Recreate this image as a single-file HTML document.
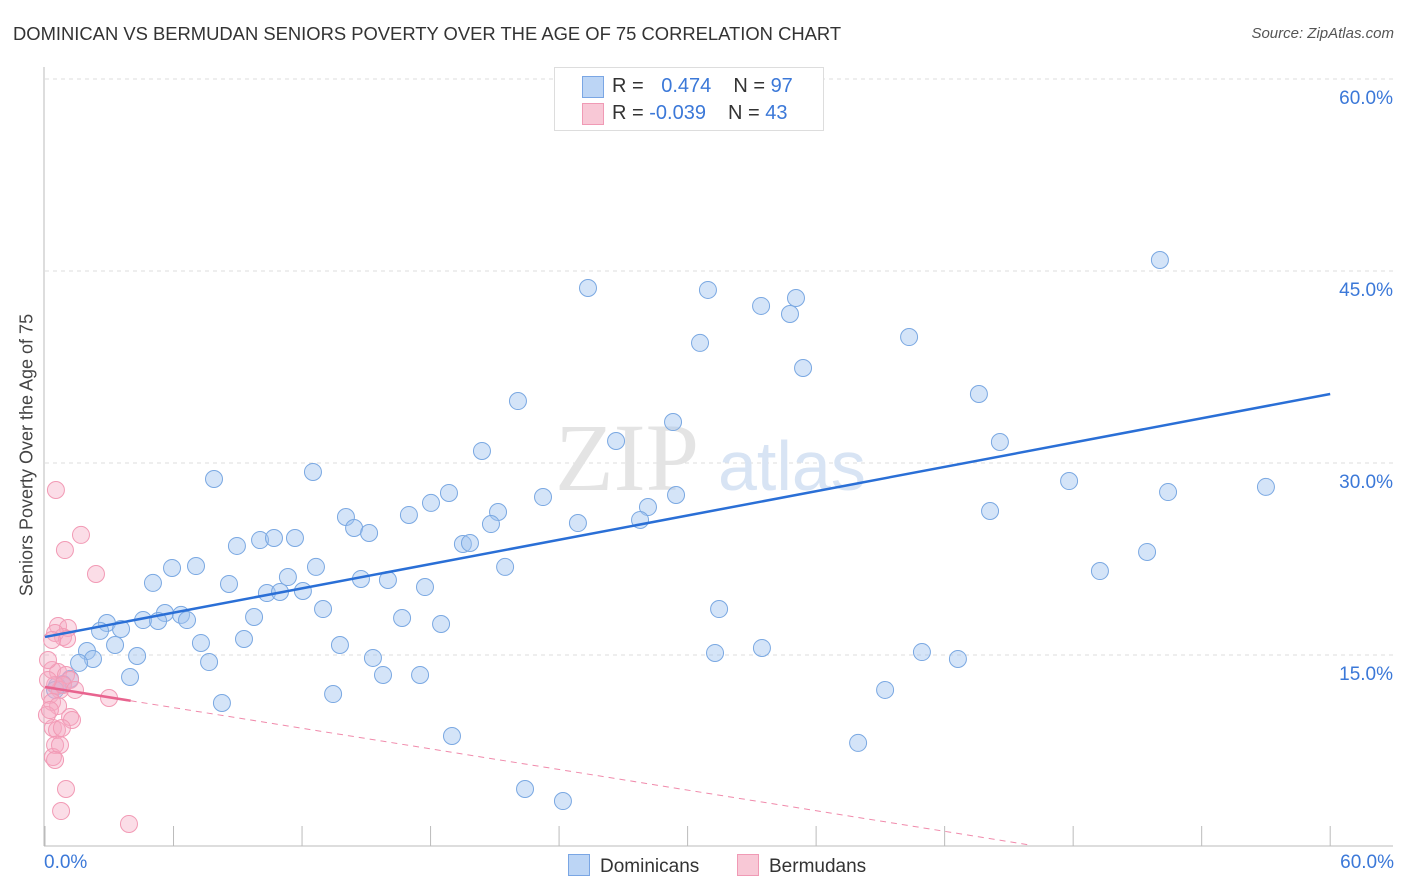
<!DOCTYPE html>
<html><head><meta charset="utf-8"><style>
body{margin:0;background:#fff;font-family:"Liberation Sans",sans-serif}
#wrap{position:relative;width:1406px;height:892px;overflow:hidden}
.t{position:absolute;white-space:nowrap}
</style></head><body><div id="wrap">
<div class="t" style="left:13px;top:23px;font-size:18.4px;color:#333">DOMINICAN VS BERMUDAN SENIORS POVERTY OVER THE AGE OF 75 CORRELATION CHART</div>
<div class="t" style="right:12px;top:25px;font-size:15px;color:#555;font-style:italic">Source: ZipAtlas.com</div>
<svg id="svg" width="1406" height="892" style="position:absolute;left:0;top:0"></svg>
</div>
<script>
const xTicks=[0,6,12,18,24,30,36,42,48,54,60];
const yTicks=[15,30,45,60];
const yTickLabels=["15.0%","30.0%","45.0%","60.0%"];
const blueX=[32.07,52.05,25.35,30.95,35.06,33.43,34.78,40.34,30.58,35.39,43.60,22.08,29.32,26.66,44.58,20.40,12.51,7.89,47.81,18.86,52.43,57.00,29.46,23.25,18.02,28.15,14.05,16.99,21.15,44.12,24.88,27.78,20.82,14.43,15.13,19.51,19.84,8.96,10.04,10.69,11.67,51.45,7.05,5.93,12.65,21.48,49.25,11.34,5.04,8.59,14.75,16.01,17.74,10.36,10.97,12.04,31.47,5.60,12.98,6.35,4.58,5.28,6.63,16.67,9.76,2.89,2.57,3.55,18.49,9.29,7.28,3.27,13.77,1.96,4.30,40.94,31.28,33.47,42.62,2.24,1.59,7.66,15.31,15.78,17.51,3.97,1.17,0.84,0.56,0.47,39.22,13.45,8.26,37.96,19.00,22.41,24.18];
const blueY=[57.73,45.86,43.67,43.52,42.89,42.27,41.64,39.84,39.38,37.42,35.39,34.84,33.20,31.72,31.64,30.94,29.30,28.75,28.59,27.66,27.73,28.13,27.50,27.34,26.88,26.56,25.78,25.94,26.17,26.25,25.31,25.55,25.23,24.92,24.53,23.67,23.75,23.52,23.98,24.14,24.14,23.05,21.95,21.80,21.88,21.88,21.56,21.09,20.63,20.55,20.94,20.86,20.31,19.84,19.92,20.00,18.59,18.28,18.59,18.13,17.73,17.66,17.73,17.89,17.97,17.50,16.88,17.03,17.42,16.25,15.94,15.78,15.78,15.31,14.92,15.23,15.16,15.55,14.69,14.69,14.38,14.45,14.77,13.44,13.44,13.28,13.13,12.73,12.58,12.27,12.27,11.95,11.25,8.13,8.67,4.53,3.59];
const pinkX=[0.51,1.68,0.93,2.38,0.61,1.07,0.84,0.47,1.03,0.33,0.61,0.98,1.17,0.47,0.70,0.23,0.84,0.33,0.61,2.99,1.17,1.26,0.37,0.56,0.47,0.37,0.98,0.75,3.92,0.09,0.23,0.14,0.33,0.70,0.47,0.79,0.14,1.40];
const pinkY=[27.89,24.38,23.20,21.33,17.27,17.11,16.41,16.72,16.25,13.83,13.67,13.44,13.05,12.66,12.27,11.88,12.66,11.33,11.02,11.64,10.16,9.92,9.30,9.14,7.97,7.03,4.53,2.81,1.80,10.31,10.70,14.61,16.17,7.97,6.80,9.30,13.05,12.27];
const blueTrend=[16.41,35.39];
const pinkTrend=[12.50,0.15];
const pinkTrendEnd=[4,46];
const X=v=>45+v*21.42, Y=v=>847-v*12.8;
const svg=document.getElementById('svg');
function mk(tag,attrs,name){const e=document.createElementNS('http://www.w3.org/2000/svg',tag);for(const k in attrs)e.setAttribute(k,attrs[k]);


svg.appendChild(e);return e;}
yTicks.forEach((t,i)=>{mk('line',{x1:45,x2:1393,y1:Y(t),y2:Y(t),stroke:'#ddd','stroke-dasharray':'4,4'},'grid-line');
const tx=mk('text',{x:1393,y:Y(t)+25,'text-anchor':'end','font-size':19,fill:'#3b78d8','font-family':'Liberation Sans'},'y-tick-label');tx.textContent=yTickLabels[i];});
mk('line',{x1:44,x2:44,y1:67,y2:846,stroke:'#bbb'},'y-axis');
mk('line',{x1:44,x2:1393,y1:846,y2:846,stroke:'#bbb'},'x-axis');
xTicks.forEach(t=>mk('line',{x1:X(t),x2:X(t),y1:826,y2:846,stroke:'#bbb'},'x-tick'));
const wm=mk('text',{x:555,y:490,'font-size':96,fill:'#e4e4e4','font-family':'Liberation Serif'},'watermark');wm.textContent='ZIP';
const wm2=mk('text',{x:718,y:490,'font-size':70,fill:'#d8e4f4','font-family':'Liberation Sans'},'watermark');wm2.textContent='atlas';
blueX.forEach((x,i)=>mk('circle',{cx:X(x),cy:Y(blueY[i]),r:8.5,fill:'rgba(160,196,240,0.45)',stroke:'#7aa8e2','stroke-width':1},'dominican-point'));
pinkX.forEach((x,i)=>mk('circle',{cx:X(x),cy:Y(pinkY[i]),r:8.5,fill:'rgba(246,170,195,0.4)',stroke:'#f29ab5','stroke-width':1},'bermudan-point'));
mk('line',{x1:X(0),y1:Y(blueTrend[0]),x2:X(60),y2:Y(blueTrend[1]),stroke:'#2a6fd6','stroke-width':2.5},'dominican-trend-line');
const py=x=>pinkTrend[0]+(pinkTrend[1]-pinkTrend[0])*x/pinkTrendEnd[1];
mk('line',{x1:X(0),y1:Y(pinkTrend[0]),x2:X(pinkTrendEnd[0]),y2:Y(py(pinkTrendEnd[0])),stroke:'#e8648f','stroke-width':2.5},'bermudan-trend-line');
mk('line',{x1:X(pinkTrendEnd[0]),y1:Y(py(pinkTrendEnd[0])),x2:X(pinkTrendEnd[1]),y2:Y(pinkTrend[1]),stroke:'#f08aab','stroke-width':1,'stroke-dasharray':'6,5'},'bermudan-trend-extension');
</script>
<div class="t" style="left:27px;top:455px;font-size:18px;color:#444;transform:translate(-50%,-50%) rotate(-90deg)">Seniors Poverty Over the Age of 75</div>
<div class="t" style="left:44px;top:852px;font-size:19px;color:#3b78d8">0.0%</div>
<div class="t" style="right:12px;top:852px;font-size:19px;color:#3b78d8">60.0%</div>
<div style="position:absolute;left:554px;top:67px;width:268px;height:62px;border:1px solid #ddd;background:#fff;font-size:20px;color:#333">
<div style="position:absolute;left:27px;top:8px;width:20px;height:20px;background:#bcd5f5;border:1px solid #7aa6e4"></div>
<div class="t" style="left:57px;top:7px">R = <span style="color:#3b78d8;margin-left:12px">0.474</span><span style="margin-left:22px">N = </span><span style="color:#3b78d8">97</span></div>
<div style="position:absolute;left:27px;top:35px;width:20px;height:20px;background:#f8c8d6;border:1px solid #f09ab5"></div>
<div class="t" style="left:57px;top:34px">R = <span style="color:#3b78d8">-0.039</span><span style="margin-left:22px">N = </span><span style="color:#3b78d8">43</span></div>
</div>
<div style="position:absolute;left:568px;top:854px;font-size:19px;color:#333"><span style="display:inline-block;width:20px;height:20px;background:#bcd5f5;border:1px solid #7aa6e4;vertical-align:-4px;margin-right:10px"></span>Dominicans</div>
<div style="position:absolute;left:737px;top:854px;font-size:19px;color:#333"><span style="display:inline-block;width:20px;height:20px;background:#f8c8d6;border:1px solid #f09ab5;vertical-align:-4px;margin-right:10px"></span>Bermudans</div>
</body></html>
